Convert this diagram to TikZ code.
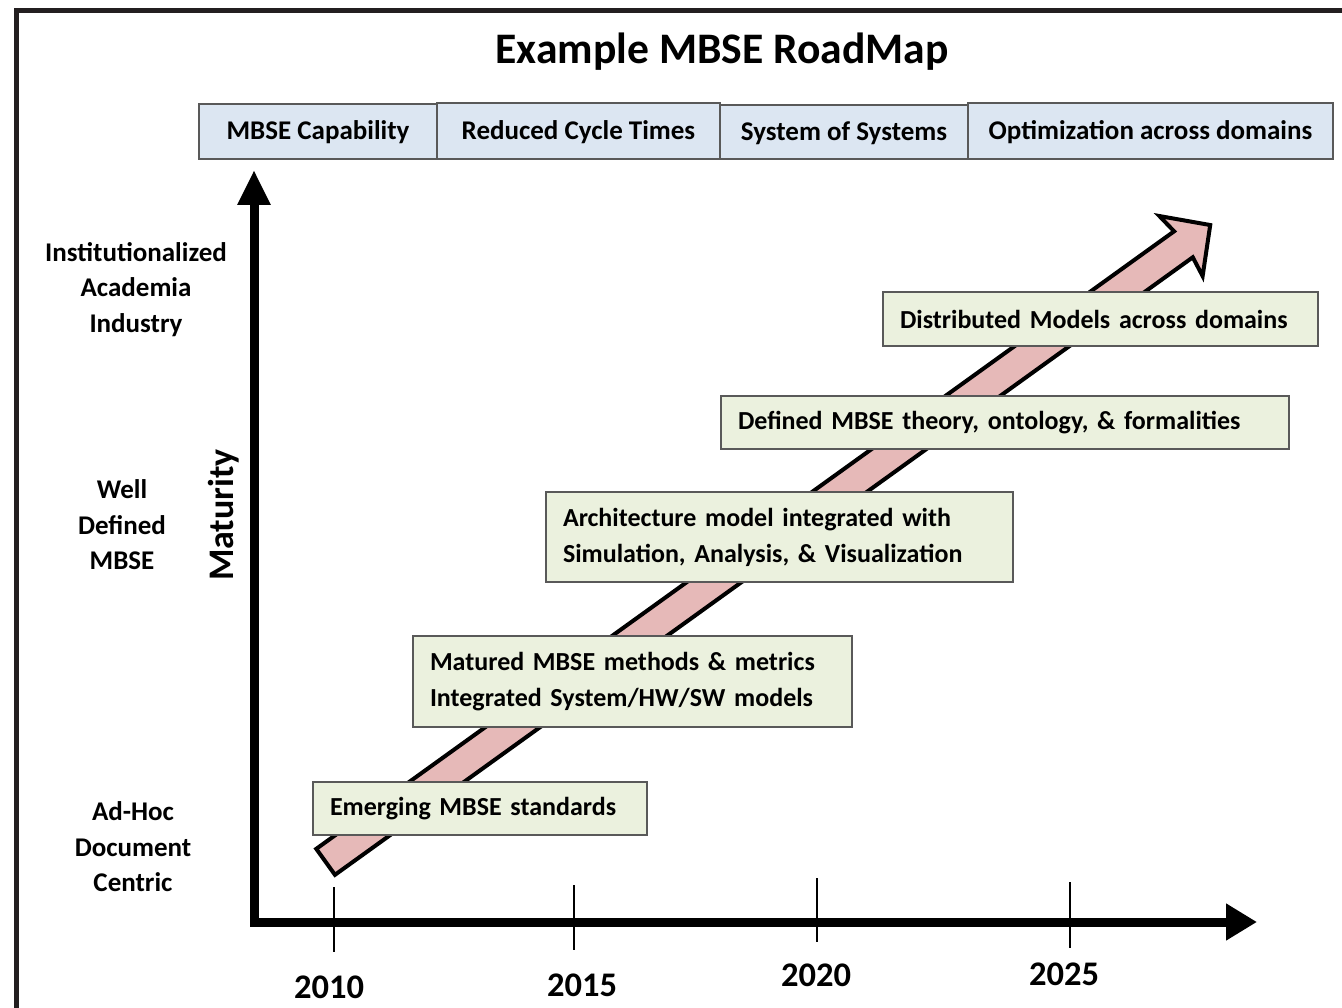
\documentclass[tikz,border=0pt]{standalone}
\usepackage{fontspec}
\setmainfont{Carlito}
\usetikzlibrary{arrows.meta}
\definecolor{hdrfill}{HTML}{DCE6F2}
\definecolor{grnfill}{HTML}{EBF1DE}
\definecolor{pinkfill}{HTML}{E6B9B8}
\definecolor{boxline}{HTML}{595959}
\definecolor{framecol}{HTML}{231F20}
\tikzset{
  hdr/.style={draw=boxline, line width=1.5pt, fill=hdrfill, inner sep=0pt,
    text height=22pt, text depth=5pt,
    font=\fontsize{27}{33}\selectfont\bfseries},
  gbox/.style={draw=boxline, line width=1.5pt, fill=grnfill, inner xsep=17pt, inner ysep=0pt,
    align=left, font=\fontsize{26}{36}\selectfont\bfseries},
  lvl/.style={align=center, font=\fontsize{27}{35.5}\selectfont\bfseries},
  yr/.style={font=\fontsize{34.5}{40}\selectfont\bfseries},
  axisline/.style={line width=9pt, line join=miter},
  tick/.style={line width=2pt},
  bigarrow/.style={draw=black, line width=4pt, fill=pinkfill, line join=miter}
}
\begin{document}
\begin{tikzpicture}[x=1pt,y=-1pt]
\useasboundingbox (0,0) rectangle (1342,1008);
% frame
\draw[framecol, line width=5pt] (16.5,1010) -- (16.5,10.5) -- (1345,10.5);
% title
\node[font=\fontsize{43.6}{50}\selectfont\bfseries] (title) at (722,52) {Example MBSE RoadMap};
% header boxes
\node[hdr, minimum width=238pt, minimum height=55pt] (h1) at (318,131.5) {MBSE Capability};
\node[hdr, minimum width=283pt, minimum height=56pt] (h2) at (578.5,131) {Reduced Cycle Times};
\node[hdr, minimum width=248pt, minimum height=54pt] (h3) at (844,132) {System of Systems};
\node[hdr, minimum width=365pt, minimum height=56pt] (h4) at (1150.5,131) {Optimization across domains};
% axes
\coordinate (ytip) at (254,170);
\coordinate (xtip) at (1257,922);
\draw[axisline, {Triangle[width=31pt,length=35pt]}-{Triangle[width=35pt,length=31pt]}] (ytip) |- (xtip);
% ticks
\coordinate (t1a) at (334,887); \coordinate (t1b) at (334,952);
\coordinate (t2a) at (574,885); \coordinate (t2b) at (574,950);
\coordinate (t3a) at (817,878); \coordinate (t3b) at (817,942);
\coordinate (t4a) at (1070,882); \coordinate (t4b) at (1070,948);
\draw[tick] (t1a) -- (t1b);
\draw[tick] (t2a) -- (t2b);
\draw[tick] (t3a) -- (t3b);
\draw[tick] (t4a) -- (t4b);
\node[yr] (y2010) at (329,987) {2010};
\node[yr] (y2015) at (582,985) {2015};
\node[yr] (y2020) at (816,975) {2020};
\node[yr] (y2025) at (1064,974) {2025};
% maturity
\node[font=\fontsize{36}{42}\selectfont\bfseries, rotate=90] (mat) at (224,515) {Maturity};
% levels
\node[lvl] (l1) at (136,289.5) {Institutionalized\\Academia\\Industry};
\node[lvl] (l2) at (122,525) {Well\\Defined\\MBSE};
\node[lvl] (l3) at (133,847) {Ad-Hoc\\Document\\Centric};
% big arrow
\begin{scope}[shift={(324,863)}, rotate=35.75]
\draw[bigarrow] (2,-16) -- (1059,-16) -- (1056,-37) -- (1092,0) -- (1056,37) -- (1059,16) -- (2,16) -- cycle;
\end{scope}
% green boxes
\node[gbox, minimum width=334pt, minimum height=53pt, text width=300pt] (g1) at (480,808.5) {Emerging MBSE standards};
\node[gbox, minimum width=439pt, minimum height=91pt, text width=405pt] (g2) at (632.5,681.5) {Matured MBSE methods \& metrics\\Integrated System/HW/SW models};
\node[gbox, minimum width=467pt, minimum height=90pt, text width=433pt] (g3) at (779.5,537) {Architecture model integrated with\\Simulation, Analysis, \& Visualization};
\node[gbox, minimum width=568pt, minimum height=53pt, text width=534pt] (g4) at (1005,422.5) {Defined MBSE theory, ontology, \& formalities};
\node[gbox, minimum width=435pt, minimum height=54pt, text width=401pt] (g5) at (1100.5,319) {Distributed Models across domains};
\end{tikzpicture}
\end{document}
